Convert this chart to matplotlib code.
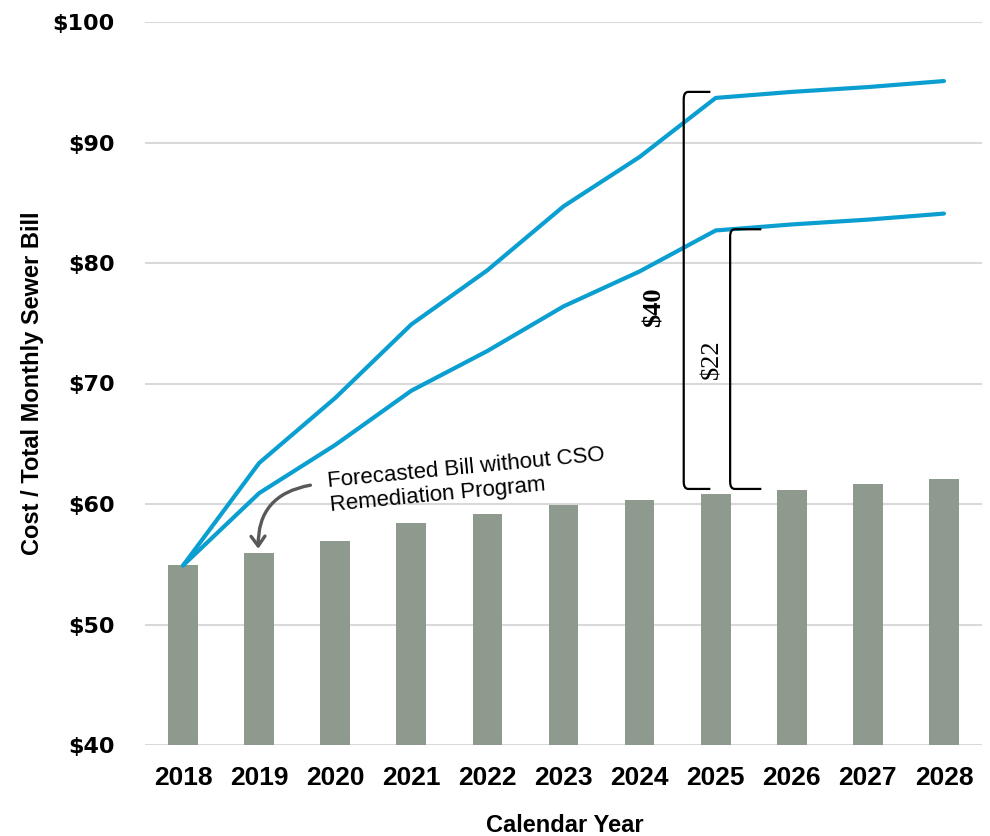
import matplotlib
matplotlib.use("Agg")
import matplotlib.pyplot as plt
from matplotlib import font_manager
from matplotlib.patches import FancyArrowPatch, PathPatch
from matplotlib.path import Path

# Chart data
years = ["2018", "2019", "2020", "2021", "2022", "2023", "2024", "2025", "2026", "2027", "2028"]
bill_without_cso = [54.9, 55.9, 56.9, 58.4, 59.2, 59.9, 60.3, 60.8, 61.2, 61.7, 62.1]
bill_high = [54.9, 63.4, 68.8, 74.9, 79.4, 84.7, 88.8, 93.7, 94.2, 94.6, 95.1]
bill_low = [54.9, 60.9, 64.9, 69.4, 72.7, 76.4, 79.3, 82.7, 83.2, 83.6, 84.1]
y_ticks = [40, 50, 60, 70, 80, 90, 100]

# Bracket annotations
bracket_labels = ["$40", "$22"]
bracket_spans = [(61.25, 94.2), (61.25, 82.8)]

BAR_COLOR = "#8F9A8F"
LINE_COLOR = "#0A9FD0"
GRID_COLOR = "#D9D9D9"

installed = {f.name for f in font_manager.fontManager.ttflist}
if "DejaVu Sans Condensed" in installed:
    cond_family, cond_size, cond_stretch = "DejaVu Sans Condensed", 16.5, "condensed"
else:
    cond_family, cond_size, cond_stretch = "Liberation Sans", 17, "normal"

fig = plt.figure(figsize=(9.9, 8.36), dpi=100)
ax = fig.add_axes([145 / 990, 1 - 745 / 836, (982 - 145) / 990, (745 - 22) / 836])

x = list(range(len(years)))
ax.bar(x, bill_without_cso, width=0.39, color=BAR_COLOR, zorder=2)
ax.plot(x, bill_high, color=LINE_COLOR, lw=3.0, solid_capstyle="round", zorder=3)
ax.plot(x, bill_low, color=LINE_COLOR, lw=3.0, solid_capstyle="round", zorder=3)

ax.set_xlim(-0.5, len(years) - 0.5)
ax.set_ylim(40, 100)
ax.set_yticks(y_ticks)
ax.set_yticklabels([f"${v}" for v in y_ticks], fontsize=16, fontweight="bold",
                   family="DejaVu Sans")
ax.set_xticks(x)
ax.set_xticklabels(years, fontsize=19, fontweight="bold",
                   family=["Liberation Sans", "DejaVu Sans"])
ax.tick_params(axis="both", length=0)
ax.tick_params(axis="y", pad=22)
ax.tick_params(axis="x", pad=15)
ax.grid(axis="y", color=GRID_COLOR, lw=1.5, zorder=0)
ax.set_axisbelow(True)
for s in ax.spines.values():
    s.set_visible(False)

# Axis titles
fig.text(33 / 990, 1 - 383 / 836, "Cost / Total Monthly Sewer Bill", rotation=90,
         ha="center", va="center", fontsize=cond_size, fontweight="bold",
         fontstretch=cond_stretch, family=[cond_family, "DejaVu Sans"])
fig.text(565 / 990, 1 - 825 / 836, "Calendar Year", ha="center", va="center",
         fontsize=cond_size, fontweight="bold", fontstretch=cond_stretch,
         family=[cond_family, "DejaVu Sans"])


def bracket(x0, x1, y0, y1, r=0.6):
    verts = [(x1, y1), (x0 + 0.06, y1), (x0, y1), (x0, y1 - r),
             (x0, y0 + r), (x0, y0), (x0 + 0.06, y0), (x1, y0)]
    codes = [Path.MOVETO, Path.LINETO, Path.CURVE3, Path.CURVE3,
             Path.LINETO, Path.CURVE3, Path.CURVE3, Path.LINETO]
    ax.add_patch(PathPatch(Path(verts, codes), fill=False, lw=1.6,
                           edgecolor="black", zorder=4))


bracket(6.58, 6.93, bracket_spans[0][0], bracket_spans[0][1])
bracket(7.19, 7.60, bracket_spans[1][0], bracket_spans[1][1])

ax.text(6.19, 76.35, bracket_labels[0], rotation=90, ha="center", va="center",
        fontsize=19, fontweight="bold", family=["Liberation Serif", "DejaVu Serif"])
ax.text(6.96, 72.0, bracket_labels[1], rotation=90, ha="center", va="center",
        fontsize=19, family=["Liberation Serif", "DejaVu Serif"])

# Callout for the baseline bars
ax.text(1.94, 59.0, "Forecasted Bill without CSO\nRemediation Program",
        rotation=5.5, rotation_mode="anchor", ha="left", va="bottom",
        fontsize=16, linespacing=1.2, family=["Liberation Sans", "DejaVu Sans"])
arrow = FancyArrowPatch((1.71, 61.6), (0.99, 56.05),
                        connectionstyle="arc3,rad=0.45",
                        arrowstyle="->,head_length=7,head_width=5",
                        color="#595959", lw=2.4, zorder=5)
ax.add_patch(arrow)

fig.savefig("out.png", dpi=100)
